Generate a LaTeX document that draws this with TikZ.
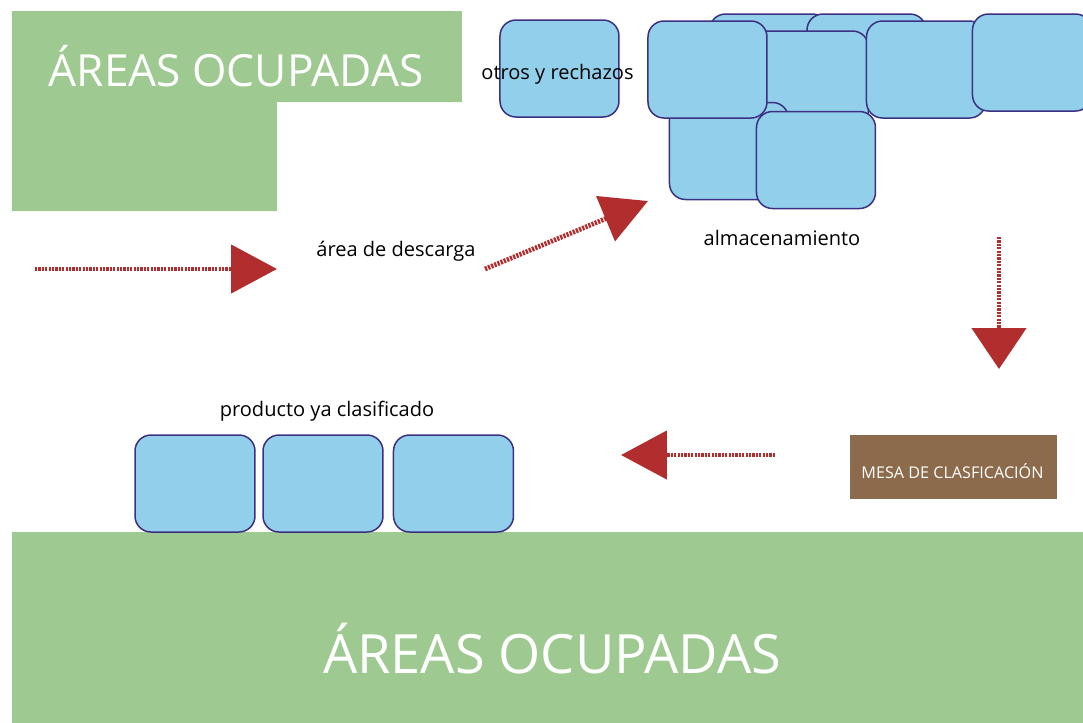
\documentclass[tikz,border=0pt]{standalone}
\usepackage{fontspec}
\setmainfont{Open Sans}
\usepackage{xcolor}
\usepackage{tikz}
\usetikzlibrary{arrows.meta}
\definecolor{verde}{RGB}{158,202,145}
\definecolor{celeste}{RGB}{146,207,235}
\definecolor{borde}{RGB}{60,48,130}
\definecolor{rojo}{RGB}{178,45,46}
\definecolor{cafe}{RGB}{140,107,76}
\tikzset{
  caja/.style={draw=borde, line width=0.15mm, fill=celeste, rounded corners=1.6mm,
    minimum width=11.9mm, minimum height=9.7mm, inner sep=0pt},
  rotulo/.style={anchor=base, inner sep=0pt, font=\fontsize{5.7}{7}\selectfont},
  titulo/.style={anchor=base, inner sep=0pt, text=white},
  flecha/.style={->, draw=rojo, line width=0.48mm, dash pattern=on 0.22mm off 0.12mm},
}

\begin{document}
\begin{tikzpicture}[x=0.1mm, y=-0.1mm, >={Triangle[length=4.6mm, width=4.8mm]}]
    \useasboundingbox (0,0) rectangle (1083,723);
    \fill[verde] (12,11) -- (462,11) -- (462,102) -- (277,102) -- (277,211) -- (12,211) -- cycle;
    \fill[verde] (12,532) rectangle (1083,723);
    \node[titulo, font=\fontsize{12.6}{15}\selectfont] (arriba) at (236,86) {ÁREAS OCUPADAS};
    \node[titulo, font=\fontsize{15.4}{18}\selectfont] (abajo) at (552,673) {ÁREAS OCUPADAS};

    \node[caja] (otros) at (559.5,68.5) {};
    \node[rotulo] (otrostxt) at (557.5,79) {otros y rechazos};

    \node[caja] (alm1) at (769,62.5) {};
    \node[caja] (alm2) at (866.5,62.5) {};
    \node[caja] (alm3) at (809,79.5) {};
    \node[caja] (alm4) at (729,151) {};
    \node[caja] (alm5) at (707.5,69.5) {};
    \node[caja] (alm6) at (926,69.5) {};
    \node[caja] (alm7) at (1032,62.5) {};
    \node[caja] (alm8) at (816,160) {};
    \node[rotulo] (almtxt) at (782,245) {almacenamiento};

    \node[rotulo] (descarga) at (396,256) {área de descarga};

    \node[fill=cafe, minimum width=20.7mm, minimum height=6.4mm, inner sep=0pt] (mesa) at (953.5,467) {};
    \node[titulo, font=\fontsize{4.6}{6}\selectfont] (mesatxt) at (952.5,478) {MESA DE CLASFICACIÓN};

    \node[caja, minimum width=12mm] (prod1) at (195,483.5) {};
    \node[caja, minimum width=12mm] (prod2) at (323,483.5) {};
    \node[caja, minimum width=12mm] (prod3) at (453.5,483.5) {};
    \node[rotulo] (prodtxt) at (327,416) {producto ya clasificado};

    \coordinate (e1) at (35,269);
    \coordinate (e2) at (277,269);
    \coordinate (d1) at (485,269);
    \coordinate (d2) at (648,201);
    \coordinate (b1) at (999,237);
    \coordinate (b2) at (999,369);
    \coordinate (s1) at (775,455);
    \coordinate (s2) at (621,455);
    \draw[flecha] (e1) -- (e2);
    \draw[flecha] (d1) -- (d2);
    \draw[flecha, >={Triangle[length=4.1mm, width=5.4mm]}] (b1) -- (b2);
    \draw[flecha] (s1) -- (s2);
\end{tikzpicture}
\end{document}
